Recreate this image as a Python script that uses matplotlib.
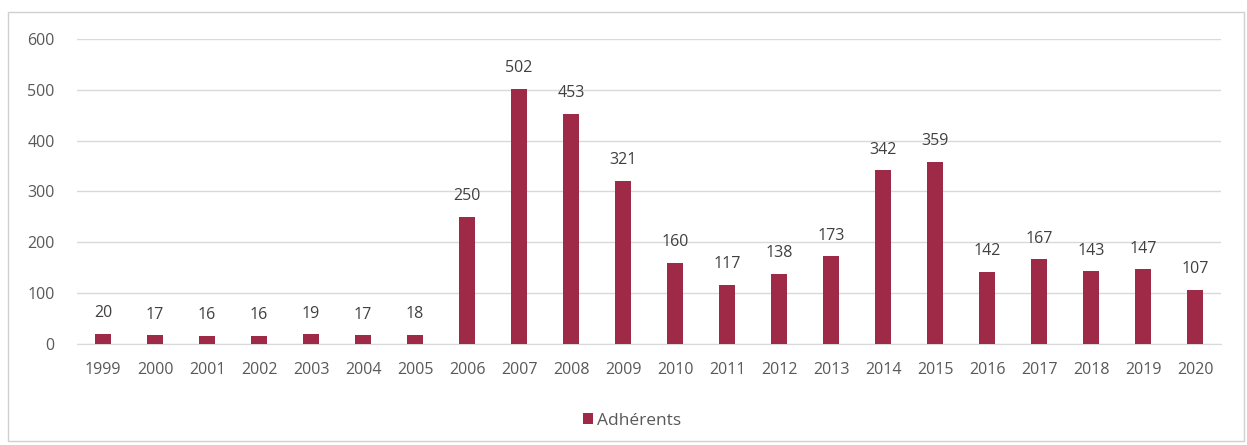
import matplotlib.pyplot as plt
from matplotlib.patches import Rectangle

YEARS = [str(y) for y in range(1999, 2021)]
ADHERENTS = [20, 17, 16, 16, 19, 17, 18, 250, 502, 453, 321, 160, 117, 138, 173,
             342, 359, 142, 167, 143, 147, 107]
Y_TICKS = [0, 100, 200, 300, 400, 500, 600]

BAR_COLOR = "#9E2A47"
TEXT_COLOR = "#595959"
GRID_COLOR = "#D9D9D9"


def main() -> None:
    plt.rcParams["font.family"] = ["Open Sans", "DejaVu Sans"]
    fig = plt.figure(figsize=(12.47, 4.45), dpi=100)
    fig.patches.append(Rectangle((8 / 1247, 4 / 445), 1236 / 1247, 429 / 445,
                                 transform=fig.transFigure, fill=False,
                                 edgecolor="#D0D0D0", linewidth=1))
    ax = fig.add_axes([77 / 1247, 101 / 445, 1144 / 1247, 305 / 445])
    x = range(len(YEARS))
    bars = ax.bar(x, ADHERENTS, width=0.3, color=BAR_COLOR, label="Adhérents", zorder=3)
    for rect, val in zip(bars, ADHERENTS):
        ax.annotate(str(val), (rect.get_x() + rect.get_width() / 2, val),
                    xytext=(0, 9), textcoords="offset points", ha="center", va="bottom",
                    fontsize=11.5, color="#404040")
    ax.set_xlim(-0.5, len(YEARS) - 0.5)
    ax.set_ylim(0, 600)
    ax.set_yticks(Y_TICKS)
    ax.set_xticks(list(x))
    ax.set_xticklabels(YEARS)
    ax.grid(axis="y", color=GRID_COLOR, linewidth=1, zorder=0)
    for side in ("top", "right", "left"):
        ax.spines[side].set_visible(False)
    ax.spines["bottom"].set_color(GRID_COLOR)
    ax.tick_params(axis="both", length=0, labelsize=11.5, colors=TEXT_COLOR)
    ax.tick_params(axis="y", pad=16)
    ax.tick_params(axis="x", pad=13)
    fig.legend(handles=[bars], labels=["Adhérents"], loc="center",
               bbox_to_anchor=(632 / 1247, 1 - 421 / 445), frameon=False,
               fontsize=12.5, labelcolor=TEXT_COLOR, handlelength=0.6, handleheight=0.6,
               handletextpad=0.2)
    fig.savefig("out.png", dpi=100)


if __name__ == "__main__":
    main()
